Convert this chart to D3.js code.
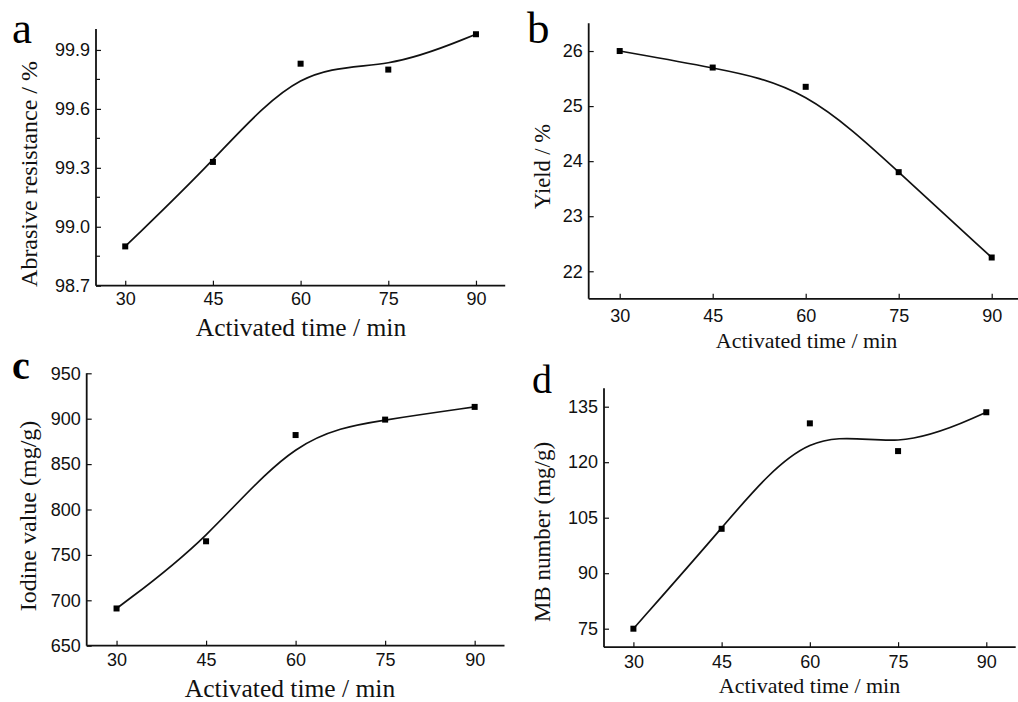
<!DOCTYPE html>
<html>
<head>
<meta charset="utf-8">
<script src="https://cdn.jsdelivr.net/npm/d3@7"></script>
<style>
  html, body { margin: 0; padding: 0; background: #fff; }
  svg { display: block; }
</style>
</head>
<body>
<svg id="chart" width="1018" height="702"></svg>
<script>
// ---------------- data ----------------
const times = [30, 45, 60, 75, 90];
const xTicks = [30, 45, 60, 75, 90];

const abrasive = [98.90, 99.33, 99.83, 99.80, 99.98];
const abrasiveTicks = [98.7, 99.0, 99.3, 99.6, 99.9];
const abrasiveMinor = [98.85, 99.15, 99.45, 99.75];

const yieldVals = [26.0, 25.70, 25.35, 23.80, 22.25];
const yieldTicks = [22, 23, 24, 25, 26];

const iodine = [691, 765, 882, 899, 913];
const iodineTicks = [650, 700, 750, 800, 850, 900, 950];

const mb = [75, 102, 130.5, 123, 133.5];
const mbTicks = [75, 90, 105, 120, 135];

const xTitle = "Activated time / min";

// ---------------- layout ----------------
const panels = [
  { letter: "a", bold: false, lfs: 45, lx: 12, ly: 43,
    values: abrasive, ticks: abrasiveTicks, minor: abrasiveMinor, fmt: d3.format(".1f"),
    ydom: [98.7, 100.0], yr: [285.7, 30.3], xr: [96, 505.2], axTop: 29,
    ytitle: "Abrasive resistance / %", ytfs: 24, ytx: 37, yty: 174,
    xtfs: 25.5, xtx: 301, xty: 336, xpad: 7 },
  { letter: "b", bold: false, lfs: 45, lx: 527, ly: 43,
    values: yieldVals, ticks: yieldTicks, minor: [], fmt: d3.format("d"),
    ydom: [21.5, 26.5], yr: [298.8, 23.5], xr: [588.7, 1022.7], axTop: 23.3,
    ytitle: "Yield / %", ytfs: 22.5, ytx: 550, yty: 166.5,
    xtfs: 22, xtx: 806.5, xty: 348, xpad: 10 },
  { letter: "c", bold: true, lfs: 40, lx: 12, ly: 379,
    values: iodine, ticks: iodineTicks, minor: [], fmt: d3.format("d"),
    ydom: [650, 950], yr: [645.7, 373.3], xr: [86.7, 504.5], axTop: 373.3,
    ytitle: "Iodine value (mg/g)", ytfs: 24, ytx: 36, yty: 516,
    xtfs: 25.5, xtx: 290, xty: 697, xpad: 7.5 },
  { letter: "d", bold: false, lfs: 40, lx: 532, ly: 393,
    values: mb, ticks: mbTicks, minor: [], fmt: d3.format("d"),
    ydom: [70, 140], yr: [647.2, 388.2], xr: [604, 1015.7], axTop: 388.3,
    ytitle: "MB number (mg/g)", ytfs: 23, ytx: 550, yty: 532,
    xtfs: 22, xtx: 809.5, xty: 693, xpad: 8 }
];

const svg = d3.select("#chart");
const tickFont = "'Liberation Sans', Arial, sans-serif";

panels.forEach(p => {
  const x = d3.scaleLinear().domain([25, 95]).range(p.xr);
  const y = d3.scaleLinear().domain(p.ydom).range(p.yr);
  const g = svg.append("g");
  const x0 = p.xr[0], yb = p.yr[0];

  // x axis
  const xa = g.append("g").attr("transform", `translate(0,${yb})`)
    .call(d3.axisBottom(x).tickValues(xTicks).tickSizeInner(-5).tickSizeOuter(0).tickPadding(p.xpad));
  xa.select(".domain").remove();
  xa.attr("font-family", tickFont).attr("font-size", 18);
  xa.selectAll(".tick line").attr("stroke", "#111").attr("stroke-width", 1.2);
  xa.selectAll(".tick text").attr("fill", "#111");

  // y axis
  const ya = g.append("g").attr("transform", `translate(${x0},0)`)
    .call(d3.axisLeft(y).tickValues(p.ticks).tickFormat(p.fmt).tickSizeInner(-5).tickSizeOuter(0).tickPadding(6));
  ya.select(".domain").remove();
  ya.attr("font-family", tickFont).attr("font-size", 18);
  ya.selectAll(".tick line").attr("stroke", "#111").attr("stroke-width", 1.2);
  ya.selectAll(".tick text").attr("fill", "#111");

  // minor ticks
  g.selectAll(".minor").data(p.minor).enter().append("line")
    .attr("x1", x0).attr("x2", x0 + 4)
    .attr("y1", d => y(d)).attr("y2", d => y(d))
    .attr("stroke", "#111").attr("stroke-width", 1.2);

  // axis lines
  g.append("line").attr("x1", x0).attr("x2", p.xr[1]).attr("y1", yb).attr("y2", yb)
    .attr("stroke", "#111").attr("stroke-width", 1.8);
  g.append("line").attr("x1", x0).attr("x2", x0).attr("y1", p.axTop).attr("y2", yb)
    .attr("stroke", "#111").attr("stroke-width", 1.8);

  // smoothed curve
  const line = d3.line().x((d, i) => x(times[i])).y(d => y(d)).curve(d3.curveBasis);
  g.append("path").attr("d", line(p.values))
    .attr("fill", "none").attr("stroke", "#111").attr("stroke-width", 1.7);

  // markers
  g.selectAll(".pt").data(p.values).enter().append("rect")
    .attr("x", (d, i) => x(times[i]) - 3).attr("y", d => y(d) - 3)
    .attr("width", 6).attr("height", 6).attr("fill", "#000");

  // x title
  g.append("text").attr("x", p.xtx).attr("y", p.xty).attr("text-anchor", "middle")
    .attr("font-family", "'Liberation Serif', 'Times New Roman', serif")
    .attr("font-size", p.xtfs).attr("fill", "#111").text(xTitle);

  // y title
  g.append("text").attr("transform", `translate(${p.ytx},${p.yty}) rotate(-90)`)
    .attr("text-anchor", "middle")
    .attr("font-family", "'Liberation Serif', 'Times New Roman', serif")
    .attr("font-size", p.ytfs).attr("fill", "#111").text(p.ytitle);

  // panel letter
  g.append("text").attr("x", p.lx).attr("y", p.ly)
    .attr("font-family", "'Liberation Serif', 'Times New Roman', serif")
    .attr("font-weight", p.bold ? "bold" : "normal")
    .attr("font-size", p.lfs).attr("fill", "#000").text(p.letter);
});
</script>
</body>
</html>
